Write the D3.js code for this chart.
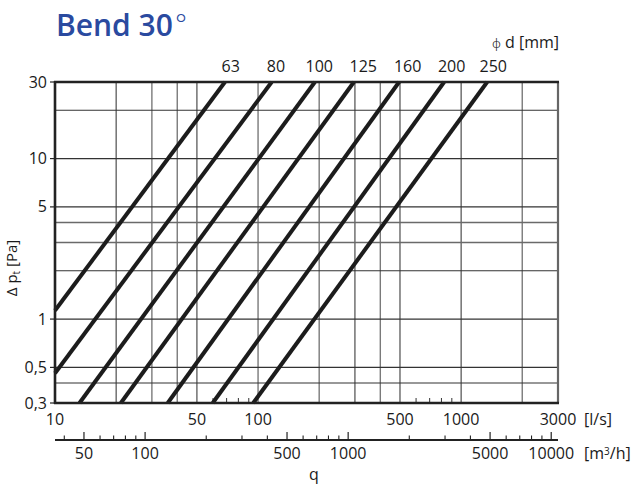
<!DOCTYPE html>
<html>
<head>
<meta charset="utf-8">
<script src="https://cdn.jsdelivr.net/npm/d3@7"></script>
<style>
  html, body { margin: 0; padding: 0; background: #fff; }
  svg { display: block; }
  text { font-family: "Open Sans", "Noto Sans", sans-serif; fill: #1a1a1a; }
</style>
</head>
<body>
<script>
// ---- Data ----
const diameters   = [63, 80, 100, 125, 160, 200, 250];          // mm
const lineStartQ  = [10, 10, 13.2, 21.1, 35.9, 59.8, 94.7];      // l/s at lower end
const lineStartP  = [1.13, 0.46, 0.3, 0.3, 0.3, 0.3, 0.3];       // Pa at lower end
const lineEndQ    = [68.7, 116.7, 190.5, 296.5, 495, 825, 1344]; // l/s at upper end
const lineEndP    = [30, 30, 30, 30, 30, 30, 30];                 // Pa at upper end

const qGridLines   = [20, 30, 40, 50, 100, 200, 300, 400, 500, 1000, 2000];
const qGridDark    = [20, 50, 300, 500, 1000];
const qMinorTicks  = [60, 70, 80, 90, 600, 700, 800, 900];
const qTickLabels  = [10, 50, 100, 500, 1000, 3000];
const pGridLines   = [0.4, 0.5, 1, 2, 3, 4, 5, 10, 20];
const pTickValues  = [0.3, 0.5, 1, 5, 10, 30];
const pTickLabels  = ["0,3", "0,5", "1", "5", "10", "30"];
const m3hMajor     = [50, 100, 500, 1000, 5000, 10000];
const m3hMinor     = [40, 60, 70, 80, 90, 200, 300, 400, 600, 700, 800, 900,
                      2000, 3000, 4000, 6000, 7000, 8000, 9000];

const W = 640, H = 489;
const svg = d3.select("body").append("svg").attr("width", W).attr("height", H);

const x = d3.scaleLog().domain([10, 3000]).range([55, 558]);
const y = d3.scaleLog().domain([0.3, 30]).range([403, 82]);
const xm = d3.scaleLog().domain([36, 10800]).range([55, 558]); // m3/h = 3.6 * l/s

const FS = "16px";

// Title
const title = svg.append("text").attr("x", 56).attr("y", 36)
  .style("font-size", "30px").style("font-weight", "600").style("fill", "#2a4a9f")
  .text("Bend 30");
title.append("tspan").attr("dx", 2).attr("dy", -2)
  .style("font-weight", "300").style("font-size", "28px").text("°");

// Grid
const g = svg.append("g");
g.selectAll("line.vg").data(qGridLines).join("line")
  .attr("x1", d => x(d)).attr("x2", d => x(d))
  .attr("y1", y(0.3)).attr("y2", y(30))
  .attr("stroke", d => qGridDark.includes(d) ? "#2a2a2a" : "#7a7a7a")
  .attr("stroke-width", d => qGridDark.includes(d) ? 1 : 1.4);
g.selectAll("line.hg").data(pGridLines).join("line")
  .attr("x1", x(10)).attr("x2", x(3000))
  .attr("y1", d => y(d)).attr("y2", d => y(d))
  .attr("stroke", d => (d === 3 || d === 4) ? "#6a6a6a" : "#333")
  .attr("stroke-width", d => (d === 3 || d === 4) ? 1.4 : 1.1);

// minor ticks on bottom of plot
g.selectAll("line.mt").data(qMinorTicks).join("line")
  .attr("x1", d => x(d)).attr("x2", d => x(d))
  .attr("y1", y(0.3)).attr("y2", y(0.3) - 5)
  .attr("stroke", "#333").attr("stroke-width", 1);

// Diameter lines
const idx = d3.range(diameters.length);
const lineGen = d3.line().x(d => x(d[0])).y(d => y(d[1]));
svg.append("g").selectAll("path").data(idx).join("path")
  .attr("d", i => lineGen([[lineStartQ[i], lineStartP[i]], [lineEndQ[i], lineEndP[i]]]))
  .attr("stroke", "#1c1c1c").attr("stroke-width", 4).attr("fill", "none");

// Border
const b = svg.append("g");
b.append("line").attr("x1", x(3000)).attr("x2", x(3000)).attr("y1", y(30)).attr("y2", y(0.3))
  .attr("stroke", "#666").attr("stroke-width", 2.2);
b.append("line").attr("x1", x(10)).attr("x2", x(10)).attr("y1", y(30) - 1).attr("y2", y(0.3) + 1)
  .attr("stroke", "#222").attr("stroke-width", 2.6);
b.append("line").attr("x1", x(10) - 1).attr("x2", x(3000) + 1).attr("y1", y(30)).attr("y2", y(30))
  .attr("stroke", "#222").attr("stroke-width", 2.6);
b.append("line").attr("x1", x(10) - 1).attr("x2", x(3000) + 1).attr("y1", y(0.3)).attr("y2", y(0.3))
  .attr("stroke", "#222").attr("stroke-width", 2.6);
b.selectAll("line.yt").data(pTickValues).join("line")
  .attr("x1", x(10) - 5).attr("x2", x(10)).attr("y1", d => y(d)).attr("y2", d => y(d))
  .attr("stroke", "#222").attr("stroke-width", 1.2);

// Y tick labels
svg.append("g").selectAll("text").data(pTickValues).join("text")
  .attr("x", 47).attr("y", d => y(d)).attr("dy", "0.35em").attr("text-anchor", "end")
  .style("font-size", FS).text((d, i) => pTickLabels[i]);

// Y axis title
const yt = svg.append("text").attr("transform", "translate(17,268) rotate(-90)")
  .attr("text-anchor", "middle").style("font-size", "15px");
yt.append("tspan").text("Δ p");
yt.append("tspan").attr("dy", 3).style("font-size", "10px").text("t");
yt.append("tspan").attr("dy", -3).text(" [Pa]");

// X tick labels (l/s)
svg.append("g").selectAll("text").data(qTickLabels).join("text")
  .attr("x", d => x(d)).attr("y", 419).attr("dy", "0.35em").attr("text-anchor", "middle")
  .style("font-size", FS).text(d => d);
svg.append("text").attr("x", 584).attr("y", 419).attr("dy", "0.35em")
  .style("font-size", FS).text("[l/s]");

// Secondary axis (m3/h)
const ax = svg.append("g");
ax.append("line").attr("x1", 55).attr("x2", 558).attr("y1", 440).attr("y2", 440)
  .attr("stroke", "#222").attr("stroke-width", 2.2);
ax.selectAll("line.maj").data(m3hMajor).join("line")
  .attr("x1", d => xm(d)).attr("x2", d => xm(d)).attr("y1", 440).attr("y2", 432)
  .attr("stroke", "#222").attr("stroke-width", 1.2);
ax.selectAll("line.min").data(m3hMinor).join("line")
  .attr("x1", d => xm(d)).attr("x2", d => xm(d)).attr("y1", 440).attr("y2", 435.5)
  .attr("stroke", "#222").attr("stroke-width", 1.1);
ax.selectAll("text").data(m3hMajor).join("text")
  .attr("x", d => xm(d)).attr("y", 453.5).attr("dy", "0.35em").attr("text-anchor", "middle")
  .style("font-size", FS).text(d => d);
const mu = svg.append("text").attr("x", 584).attr("y", 453.5).attr("dy", "0.35em")
  .style("font-size", FS);
mu.append("tspan").text("[m");
mu.append("tspan").attr("dy", -4).style("font-size", "10px").text("3");
mu.append("tspan").attr("dy", 4).text("/h]");

svg.append("text").attr("x", 314).attr("y", 474).attr("dy", "0.35em").attr("text-anchor", "middle")
  .style("font-size", FS).text("q");

// Diameter labels
const labelX = [230.7, 276, 319.3, 363.3, 407.7, 451.7, 493.3];
svg.append("g").selectAll("text").data(idx).join("text")
  .attr("x", i => labelX[i]).attr("y", 66).attr("dy", "0.35em").attr("text-anchor", "middle")
  .style("font-size", FS).text(i => diameters[i]);

const dl = svg.append("text").attr("x", 559).attr("y", 42).attr("dy", "0.35em")
  .attr("text-anchor", "end").style("font-size", FS);
dl.append("tspan").style("font-size", "13px").style("font-weight", "300").text("ϕ");
dl.append("tspan").text(" d  [mm]");
</script>
</body>
</html>
